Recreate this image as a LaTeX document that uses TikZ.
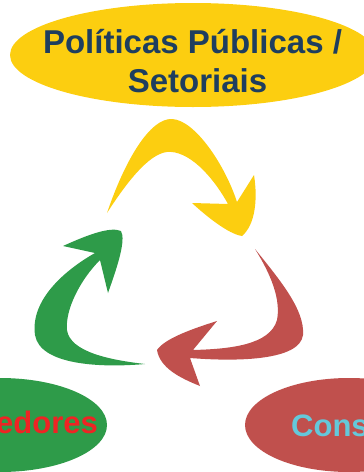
\documentclass[tikz,border=0pt]{standalone}
\usepackage{fontspec}
\setmainfont{Liberation Sans}
\usetikzlibrary{shapes.geometric}

\definecolor{polyellow}{RGB}{252,206,16}
\definecolor{forngreen}{RGB}{46,155,73}
\definecolor{consred}{RGB}{192,80,77}
\definecolor{polnavy}{RGB}{30,62,95}
\definecolor{fornred}{RGB}{238,36,36}
\definecolor{conscyan}{RGB}{100,200,218}

\begin{document}
\begin{tikzpicture}[x=1pt, y=-1pt,
  blob/.style={ellipse, inner sep=0pt, outer sep=0pt},
  lbl/.style={font=\bfseries\fontsize{33}{39}\selectfont, inner sep=0pt},
  sublbl/.style={font=\bfseries\fontsize{31}{37}\selectfont, inner sep=0pt}]

  % frame of the picture
  \useasboundingbox (0,0) rectangle (364,472);
  \clip (0,0) rectangle (364,472);

  % Políticas -- yellow ellipse at the top
  \node[blob, fill=polyellow, minimum width=366, minimum height=104] (pol) at (193,55) {};
  \node[lbl, text=polnavy, anchor=base] (polA) at (192.5,53) {Políticas Públicas /};
  \node[lbl, text=polnavy, anchor=base] (polB) at (197.5,92) {Setoriais};

  % Fornecedores -- green ellipse, bottom left
  \node[blob, fill=forngreen, minimum width=214, minimum height=94] (forn) at (0,425) {};
  \node[sublbl, text=fornred, anchor=base east] (fornT) at (98,433) {Fornecedores};

  % Consumidores -- red ellipse, bottom right
  \node[blob, fill=consred, minimum width=208, minimum height=94] (cons) at (349,425) {};
  \node[sublbl, text=conscyan, anchor=base west] (consT) at (291,436) {Consumidores};

  % yellow arrow, top of the cycle
  \fill[polyellow] (107,213) .. controls (125,160) and (150,118) .. (172,119)
    .. controls (195,120) and (225,165) .. (237,202) -- (254,175)
    .. controls (258,200) and (255,225) .. (242,236)
    .. controls (228,234) and (205,215) .. (192,203) -- (228,204)
    .. controls (212,175) and (188,150) .. (167,152)
    .. controls (148,154) and (125,185) .. (107,213) -- cycle;

  % red arrow, right of the cycle
  \fill[consred] (255,249) .. controls (280,280) and (305,310) .. (303,335)
    .. controls (300,360) and (240,362) .. (190,358) -- (200,386)
    .. controls (180,378) and (160,368) .. (157,350)
    .. controls (165,338) and (195,328) .. (217,321) -- (193,350)
    .. controls (230,349) and (270,345) .. (277,320)
    .. controls (282,295) and (265,265) .. (255,249) -- cycle;

  % green arrow, left of the cycle
  \fill[forngreen] (145,364) .. controls (100,368) and (40,365) .. (35,335)
    .. controls (30,300) and (65,270) .. (95,253) -- (63,246)
    .. controls (85,236) and (110,226) .. (121,231)
    .. controls (126,240) and (118,265) .. (108,293) -- (100,260)
    .. controls (80,280) and (65,310) .. (67,330)
    .. controls (70,352) and (110,360) .. (145,364) -- cycle;

\end{tikzpicture}
\end{document}
